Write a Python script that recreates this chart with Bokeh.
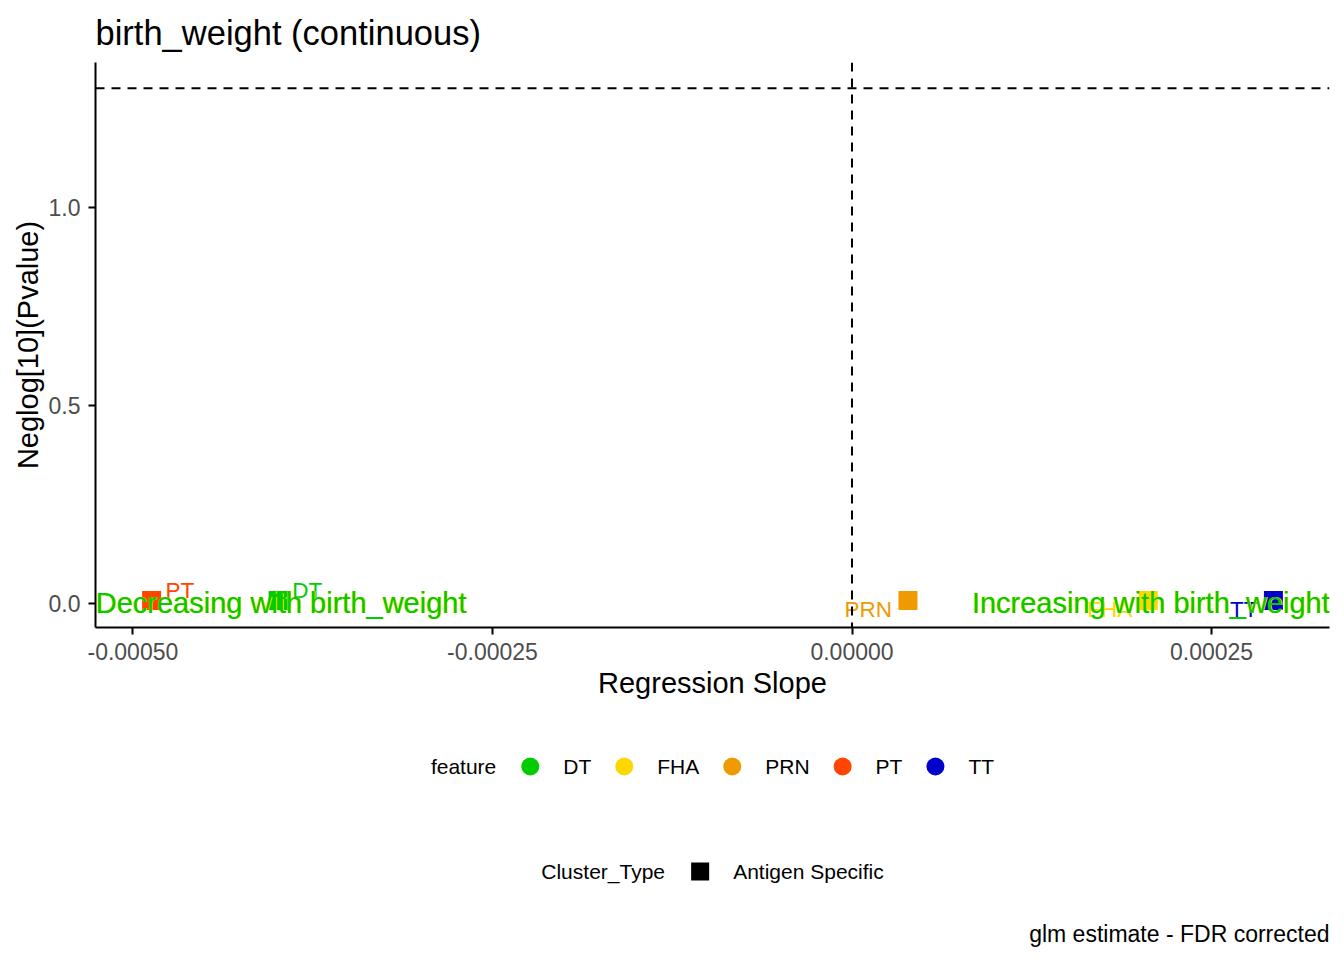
import math
from bokeh.plotting import figure
from bokeh.layouts import column
from bokeh.models import (ColumnDataSource, Span, FixedTicker, PrintfTickFormatter, Range1d)
from bokeh.core.properties import value
from bokeh.embed import file_html
from bokeh.resources import INLINE

FONT = "Liberation Sans"

# ---------------- data ----------------
title_text = "birth_weight (continuous)"
caption_text = "glm estimate - FDR corrected"
x_title = "Regression Slope"
y_title = "Neglog[10](Pvalue)"

features = ["DT", "FHA", "PRN", "PT", "TT"]
feature_colors = ["#00CD00", "#FFD700", "#EE9A00", "#FF4500", "#0000CD"]
slope = [-0.000399, 0.000206, 0.0000389, -0.000487, 0.000293]
neglog_p = [0.0076, 0.0076, 0.0076, 0.0076, 0.0076]
label_side = ["right", "left", "left", "right", "left"]

cluster_types = ["Antigen Specific"]
cluster_colors = ["#000000"]

x_ticks = [-0.0005, -0.00025, 0.0, 0.00025]
y_ticks = [0.0, 0.5, 1.0]
x_lim = (-0.000526, 0.000332)
y_lim = (-0.0606, 1.366)
p_threshold = 0.05
sig_line = -math.log10(p_threshold)

decreasing_text = "Decreasing with birth_weight"
increasing_text = "Increasing with birth_weight"

# ---------------- layout constants ----------------
W, H = 1344, 960
MAIN_H = 720
LEG_H = H - MAIN_H
BORDER_L, BORDER_R, BORDER_T = 95, 15, 62
BORDER_B = MAIN_H - 627

# ---------------- main figure ----------------
p = figure(width=W, height=MAIN_H, x_range=x_lim, y_range=y_lim,
           output_backend="svg", toolbar_location=None,
           min_border_left=BORDER_L, min_border_right=BORDER_R,
           min_border_top=BORDER_T, min_border_bottom=BORDER_B)
p.outline_line_color = None
p.xgrid.visible = False
p.ygrid.visible = False

p.title.text = title_text
p.title.text_font = FONT
p.title.text_font_size = "34.5px"
p.title.text_font_style = "normal"
p.title.text_color = "black"
p.title.align = "left"
p.title.standoff = 21

for ax in (p.xaxis[0], p.yaxis[0]):
    ax.axis_line_color = "black"
    ax.axis_line_width = 2
    ax.major_tick_line_color = "black"
    ax.major_tick_line_width = 2
    ax.major_tick_in = 0
    ax.major_tick_out = 7
    ax.minor_tick_line_color = None
    ax.major_label_text_font = FONT
    ax.major_label_text_font_size = "23px"
    ax.major_label_text_color = "#4D4D4D"
    ax.axis_label_text_font = FONT
    ax.axis_label_text_font_size = "29px"
    ax.axis_label_text_font_style = "normal"
    ax.axis_label_text_color = "black"

p.xaxis.ticker = FixedTicker(ticks=x_ticks)
p.xaxis.formatter = PrintfTickFormatter(format="%.5f")
p.xaxis.axis_label = x_title
p.xaxis.major_label_standoff = 8
p.xaxis.axis_label_standoff = 4
p.yaxis.ticker = FixedTicker(ticks=y_ticks)
p.yaxis.formatter = PrintfTickFormatter(format="%.1f")
p.yaxis.axis_label = y_title
p.yaxis.major_label_standoff = 8
p.yaxis.axis_label_standoff = 2

# reference lines
p.add_layout(Span(location=0, dimension="height", line_color="black",
                  line_width=2, line_dash="9 7"))
p.add_layout(Span(location=sig_line, dimension="width", line_color="black",
                  line_width=2, line_dash="9 7"))

# points
src = ColumnDataSource(dict(x=slope, y=neglog_p, feature=features, color=feature_colors))
p.scatter("x", "y", source=src, marker="square", size=19, color="color", line_width=0)

# point labels (repelled)
for side, dx, dy, align in (("right", 14, -10, "left"), ("left", -16, 9, "right")):
    idx = [i for i, s in enumerate(label_side) if s == side]
    s = ColumnDataSource(dict(x=[slope[i] for i in idx], y=[neglog_p[i] for i in idx],
                              t=[features[i] for i in idx],
                              c=[feature_colors[i] for i in idx]))
    p.text("x", "y", text="t", source=s, text_color="c", x_offset=dx, y_offset=dy,
           text_align=align, text_baseline="middle", text_font=value(FONT),
           text_font_size="22.5px")

# direction annotations
for txt, xpos, align in ((decreasing_text, x_lim[0], "left"),
                         (increasing_text, x_lim[1], "right")):
    p.text(x=[xpos], y=[0], text=[txt], text_color=feature_colors[1], x_offset=1,
           text_align=align, text_baseline="middle", text_font=value(FONT),
           text_font_size="29px")
    p.text(x=[xpos], y=[0], text=[txt], text_color=feature_colors[0],
           text_align=align, text_baseline="middle", text_font=value(FONT),
           text_font_size="29px")

# ---------------- legend / caption strip (pixel coordinates) ----------------
lg = figure(width=W, height=LEG_H,
            x_range=Range1d(BORDER_L, W - BORDER_R), y_range=Range1d(H, MAIN_H),
            output_backend="svg", toolbar_location=None,
            x_axis_location=None, y_axis_location=None,
            min_border_left=BORDER_L, min_border_right=BORDER_R,
            min_border_top=0, min_border_bottom=0)
lg.outline_line_color = None
lg.xgrid.visible = False
lg.ygrid.visible = False

# Arial-metric advance widths (per em) to lay out legend rows
CW = dict(zip("abcdefghijklmnopqrstuvwxyz",
              [556, 556, 500, 556, 556, 278, 556, 556, 222, 222, 500, 222, 833,
               556, 556, 556, 556, 333, 500, 278, 556, 500, 722, 500, 500, 500]))
CW.update(dict(zip("ABCDEFGHIJKLMNOPQRSTUVWXYZ",
                   [667, 667, 722, 722, 667, 611, 778, 722, 278, 500, 667, 556, 833,
                    722, 778, 667, 778, 722, 667, 611, 722, 667, 944, 667, 667, 611])))
CW.update({"_": 556, " ": 278})

def tw(s, size):
    return sum(CW.get(ch, 556) for ch in s) / 1000.0 * size

LEG_FS = 21
G_TITLE, G_LABEL, G_NEXT = 34, 33, 33
frame_cx = (BORDER_L + (W - BORDER_R)) / 2.0

def legend_row(title, labels, colors, marker, yc):
    total = tw(title, LEG_FS) + G_TITLE
    total += sum(G_LABEL + tw(l, LEG_FS) for l in labels) + G_NEXT * (len(labels) - 1)
    x = frame_cx - total / 2.0
    lg.text(x=[x], y=[yc], text=[title], text_align="left", text_baseline="middle",
            text_font=value(FONT), text_font_size=f"{LEG_FS}px", text_color="black")
    x += tw(title, LEG_FS) + G_TITLE
    gx, tx = [], []
    for l in labels:
        gx.append(x)
        tx.append(x + G_LABEL)
        x += G_LABEL + tw(l, LEG_FS) + G_NEXT
    lg.scatter(x=gx, y=[yc] * len(gx), marker=marker, size=18, color=colors, line_width=0)
    lg.text(x=tx, y=[yc] * len(tx), text=labels, text_align="left",
            text_baseline="middle", text_font=value(FONT),
            text_font_size=f"{LEG_FS}px", text_color="black")

legend_row("feature", features, feature_colors, "circle", 766)
legend_row("Cluster_Type", cluster_types, cluster_colors, "square", 871)

lg.text(x=[W - BORDER_R], y=[933], text=[caption_text], text_align="right",
        text_baseline="middle", text_font=value(FONT), text_font_size="23px",
        text_color="black")

layout = column(p, lg, spacing=0)
open("out.html", "w").write(file_html(layout, INLINE))
